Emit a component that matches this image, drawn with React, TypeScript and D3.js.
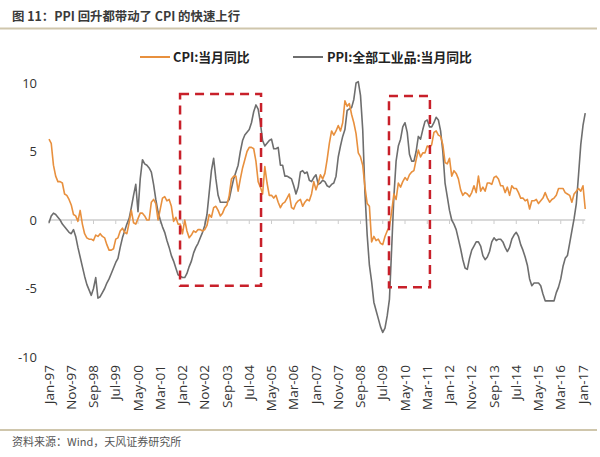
import React from "react";
import * as d3 from "d3";

const cpi: number[] = [
  5.9, 5.6, 4.0, 3.2, 2.8, 2.8, 2.7, 1.9, 1.8, 1.5, 1.1, 0.4,
  0.3, -0.1, 0.7, -0.3, -1.0, -1.3, -1.4, -1.4, -1.5, -1.1, -1.2, -1.0,
  -1.2, -1.3, -1.8, -2.2, -2.2, -2.1, -1.4, -1.3, -0.8, -0.6, -0.9, -1.0,
  -0.2, 0.7, -0.2, -0.3, 0.1, 0.5, 0.5, 0.3, 0.0, 0.0, 1.3, 1.5,
  1.2, 0.0, 0.8, 1.6, 1.7, 1.4, 1.5, 1.0, -0.1, 0.2, -0.3, -0.3,
  -1.0, 0.0, -0.8, -1.3, -1.1, -0.8, -0.9, -0.7, -0.7, -0.8, -0.7, -0.4,
  0.4, 0.2, 0.9, 1.0, 0.7, 0.3, 0.5, 0.9, 1.1, 1.8, 3.0, 3.2,
  3.2, 2.1, 3.0, 3.8, 4.4, 5.0, 5.3, 5.3, 5.2, 4.3, 2.8, 2.4,
  1.9, 3.9, 2.7, 1.8, 1.8, 1.6, 1.8, 1.3, 0.9, 1.2, 1.3, 1.6,
  1.9, 0.9, 0.8, 1.2, 1.4, 1.5, 1.0, 1.3, 1.5, 1.4, 1.9, 2.8,
  2.2, 2.7, 3.3, 3.0, 3.4, 4.4, 5.6, 6.5, 6.2, 6.5, 6.9, 6.5,
  7.1, 8.7, 8.3, 8.5, 7.7, 7.1, 6.3, 4.9, 4.6, 4.0, 2.4, 1.2,
  1.0, -1.6, -1.2, -1.5, -1.4, -1.7, -1.8, -1.2, -0.8, -0.5, 0.6, 1.9,
  1.5, 2.7, 2.4, 2.8, 3.1, 2.9, 3.3, 3.5, 3.6, 4.4, 5.1, 4.6,
  4.9, 4.9, 5.4, 5.3, 5.5, 6.4, 6.5, 6.2, 6.1, 5.5, 4.2, 4.1,
  4.5, 3.2, 3.6, 3.4, 3.0, 2.2, 1.8, 2.0, 1.9, 1.7, 2.0, 2.5,
  2.0, 3.2, 2.1, 2.4, 2.1, 2.7, 2.7, 2.6, 3.1, 3.2, 3.0, 2.5,
  2.5, 2.0, 2.4, 1.8, 2.5, 2.3, 2.3, 2.0, 1.6, 1.6, 1.4, 1.5,
  0.8, 1.4, 1.4, 1.5, 1.2, 1.4, 1.6, 2.0, 1.6, 1.3, 1.5, 1.6,
  1.8, 2.3, 2.3, 2.3, 2.0, 1.9, 1.8, 1.3, 1.9, 2.1, 2.3, 2.1,
  2.5, 0.8,
];

const ppi: number[] = [
  -0.2, 0.3, 0.5, 0.4, 0.2, 0.0, -0.3, -0.5, -0.7, -0.9, -1.0, -0.7,
  -1.2, -2.0, -2.7, -3.4, -4.1, -4.7, -5.1, -5.5, -5.0, -4.2, -5.7, -5.6,
  -5.3, -5.0, -4.6, -4.3, -3.9, -3.5, -3.1, -2.8, -2.0, -1.3, -0.8, -0.3,
  0.1, 0.9, 1.8, 2.6, 0.6, 3.0, 4.4, 4.1, 4.0, 3.8, 3.5, 2.6,
  1.5, 0.6, 0.0, -0.5, -0.9, -1.5, -2.0, -2.6, -3.0, -3.5, -4.0, -4.1,
  -4.2, -4.2, -3.9, -3.4, -3.0, -2.4, -2.0, -1.7, -1.3, -0.9, -0.4, 0.4,
  2.0, 3.6, 4.5, 3.0, 1.8, 1.3, 1.3, 1.3, 1.3, 1.5, 2.3, 3.0,
  3.5, 4.0, 5.0, 5.8, 6.2, 6.4, 6.6, 7.1, 7.9, 8.4, 8.1, 7.1,
  5.8, 5.4, 5.6, 5.8, 5.9, 5.2, 5.2, 5.3, 4.0, 4.0, 3.2, 3.2,
  3.1, 3.0, 2.5, 1.9, 2.4, 3.5, 3.6, 3.4, 3.5, 2.9, 2.8, 3.1,
  3.3, 2.6, 2.7, 2.9, 2.8, 2.5, 2.4, 2.6, 2.7, 3.2, 4.6, 5.4,
  6.1, 6.6, 8.0, 8.1, 8.2, 8.8, 10.0, 10.1, 9.1, 6.6, 2.0, -1.1,
  -3.3, -4.5, -6.0, -6.6, -7.2, -7.8, -8.2, -7.9, -7.0, -5.8, -2.1, 1.7,
  4.3, 5.4, 5.9, 6.8, 7.1, 6.4, 4.8, 4.3, 4.3, 5.0, 6.1, 5.9,
  6.6, 7.2, 7.3, 6.8, 6.8, 7.1, 7.5, 7.3, 6.5, 5.0, 2.7, 1.7,
  0.7, 0.0, -0.3, -0.7, -1.4, -2.1, -2.9, -3.5, -3.6, -2.8, -2.2, -1.9,
  -1.6, -1.6, -1.9, -2.6, -2.9, -2.7, -2.3, -1.6, -1.3, -1.5, -1.4, -1.4,
  -1.6, -2.0, -2.3, -2.0, -1.4, -1.1, -0.9, -1.2, -1.8, -2.2, -2.7, -3.3,
  -4.3, -4.8, -4.6, -4.6, -4.6, -4.8, -5.4, -5.9, -5.9, -5.9, -5.9, -5.9,
  -5.3, -4.9, -4.3, -3.4, -2.8, -2.6, -1.7, -0.8, 0.1, 1.2, 3.3, 5.5,
  6.9, 7.8,
];

const xLabels: string[] = [
  "Jan-97", "Nov-97", "Sep-98", "Jul-99", "May-00", "Mar-01", "Jan-02",
  "Nov-02", "Sep-03", "Jul-04", "May-05", "Mar-06", "Jan-07", "Nov-07",
  "Sep-08", "Jul-09", "May-10", "Mar-11", "Jan-12", "Nov-12", "Sep-13",
  "Jul-14", "May-15", "Mar-16", "Jan-17",
];
const labelStep = 10; // months between labels
const yTicks: number[] = [10, 5, 0, -5, -10];

// annotation boxes in data coordinates: [startMonthIdx, endMonthIdx, top, bottom]
const boxes: [number, number, number, number][] = [
  [58.9, 95.3, 9.2, -4.8],
  [152.8, 171.2, 9.05, -4.9],
];

const seriesNames = ["CPI:当月同比", "PPI:全部工业品:当月同比"];
const colors = ["#E8903E", "#6E6E6E"];

export default function App() {
  const x = d3.scaleLinear().domain([0, 240]).range([49, 583]);
  const y = d3.scaleLinear().domain([-10, 10]).range([357, 83]);
  const line = d3
    .line<number>()
    .x((_, i) => x(i))
    .y((d) => y(d));

  const font = "'Open Sans', 'Noto Sans CJK SC', sans-serif";
  const cjk = "'Noto Sans CJK SC', 'Open Sans', sans-serif";

  return (
    <svg
      width={600}
      height={457}
      style={{ position: "absolute", left: 0, top: 0, background: "#fff" }}
    >
      <rect x={0} y={0} width={600} height={457} fill="#fff" />
      <text x={12} y={21} fontFamily={cjk} fontWeight={700} fontSize={12.4} fill="#3a3a3a">
        图 11：PPI 回升都带动了 CPI 的快速上行
      </text>
      <line x1={0} x2={597} y1={28.5} y2={28.5} stroke="#cfc6ac" strokeWidth={2} />

      {/* legend */}
      <line x1={140} x2={170} y1={57} y2={57} stroke={colors[0]} strokeWidth={2} />
      <text x={173} y={61.5} fontFamily={cjk} fontWeight={700} fontSize={12.8} fill="#222">
        {seriesNames[0]}
      </text>
      <line x1={293} x2={323} y1={57} y2={57} stroke={colors[1]} strokeWidth={2} />
      <text x={327} y={61.5} fontFamily={cjk} fontWeight={700} fontSize={12.8} fill="#222">
        {seriesNames[1]}
      </text>

      {/* y labels */}
      {yTicks.map((t) => (
        <text
          key={t}
          x={37}
          y={y(t)}
          dy="0.35em"
          textAnchor="end"
          fontFamily={font}
          fontSize={13}
          fill="#333"
        >
          {t}
        </text>
      ))}

      {/* zero line + ticks */}
      <line x1={x(0)} x2={x(241)} y1={y(0)} y2={y(0)} stroke="#cccccc" strokeWidth={1.5} />
      {xLabels.map((_, i) => (
        <line
          key={i}
          x1={x(i * labelStep)}
          x2={x(i * labelStep)}
          y1={y(0)}
          y2={y(0) + 4}
          stroke="#cccccc"
          strokeWidth={1}
        />
      ))}

      {/* x labels */}
      {xLabels.map((l, i) => (
        <text
          key={l}
          transform={`translate(${x(i * labelStep)},365) rotate(-90)`}
          dy="0.35em"
          textAnchor="end"
          fontFamily={font}
          fontSize={13.5}
          fill="#333"
        >
          {l}
        </text>
      ))}

      {/* series */}
      <path d={line(ppi) ?? ""} fill="none" stroke={colors[1]} strokeWidth={1.6} strokeLinejoin="round" />
      <path d={line(cpi) ?? ""} fill="none" stroke={colors[0]} strokeWidth={1.6} strokeLinejoin="round" />

      {/* annotation boxes */}
      {boxes.map((b, i) => (
        <rect
          key={i}
          x={x(b[0])}
          y={y(b[2])}
          width={x(b[1]) - x(b[0])}
          height={y(b[3]) - y(b[2])}
          fill="none"
          stroke="#C8202A"
          strokeWidth={2.5}
          strokeDasharray="9 6"
        />
      ))}

      <line x1={0} x2={597} y1={430} y2={430} stroke="#cfc6ac" strokeWidth={2} />
      <text x={12} y={446} fontFamily={cjk} fontSize={11} fill="#555">
        资料来源：Wind，天风证券研究所
      </text>
    </svg>
  );
}
